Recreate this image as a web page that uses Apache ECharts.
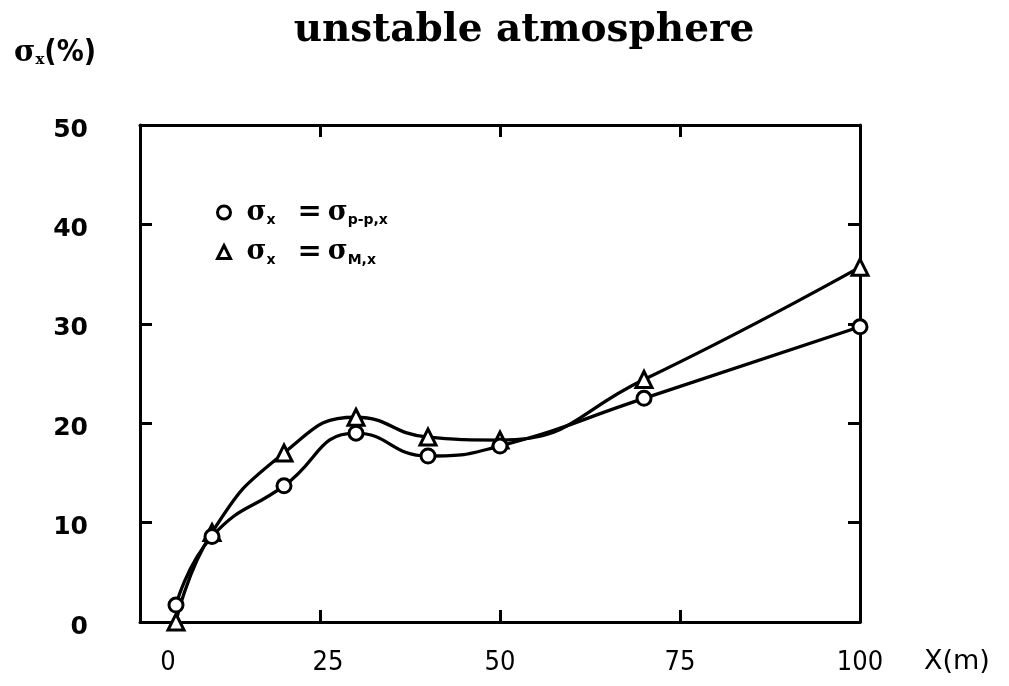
<!DOCTYPE html>
<html>
<head>
<meta charset="utf-8">
<title>unstable atmosphere</title>
<script src="https://cdn.jsdelivr.net/npm/echarts@6/dist/echarts.min.js"></script>
<style>
  html, body { margin: 0; padding: 0; background: #fff; }
  #chart { width: 1009px; height: 686px; }
</style>
</head>
<body>
<div id="chart"></div>
<script>
// Downwind distance X (m) of the measurement points
const distances = [5, 10, 20, 30, 40, 50, 70, 100];
// sigma_x (%) estimated from peak-to-peak values
const sigmaPeakToPeak = [1.7, 8.6, 13.7, 19.0, 16.7, 17.7, 22.5, 29.7];
// sigma_x (%) estimated from the M method
const sigmaM = [0, 9.0, 17.0, 20.6, 18.6, 18.3, 24.4, 35.7];
// Axis tick labels
const xTickLabels = ['0', '25', '50', '75', '100'];
const yTickLabels = ['0', '10', '20', '30', '40', '50'];

const NAME_PP = 'σx = σp-p,x';
const NAME_M = 'σx = σM,x';

const pairs = (xs, ys) => xs.map((x, i) => [x, ys[i]]);

const frameLine = { show: true, onZero: false, lineStyle: { color: '#000', width: 3 } };
const inwardTick = { show: true, inside: true, length: 12, lineStyle: { color: '#000', width: 3 } };

const sigmaFont = { fontFamily: 'DejaVu Serif', fontWeight: 'bold', fontSize: 27, color: '#000', lineHeight: 30 };

const chart = echarts.init(document.getElementById('chart'), null, { renderer: 'canvas' });

chart.setOption({
  backgroundColor: '#fff',
  animation: false,
  title: [
    {
      text: 'unstable atmosphere',
      left: 519, top: 6, textAlign: 'center',
      textStyle: { fontFamily: 'DejaVu Serif', fontWeight: 'bold', fontSize: 39, color: '#000' }
    },
    {
      text: '{s|σ}{sub|x}{p|(%)}',
      left: 9, top: 33,
      textStyle: {
        rich: {
          s: { fontFamily: 'DejaVu Serif', fontWeight: 'bold', fontSize: 29, color: '#000' },
          sub: { fontFamily: 'DejaVu Serif', fontWeight: 'bold', fontSize: 15, color: '#000', verticalAlign: 'bottom', padding: [14, 0, 0, 0] },
          p: { fontFamily: 'DejaVu Sans Condensed', fontWeight: 'bold', fontSize: 30, color: '#000' }
        }
      }
    }
  ],
  legend: {
    orient: 'vertical',
    left: 211, top: 193,
    itemWidth: 13, itemHeight: 13,
    itemGap: 10,
    data: [
      { name: NAME_PP, icon: 'circle', itemStyle: { color: '#fff', borderColor: '#000', borderWidth: 3 } },
      { name: NAME_M, icon: 'triangle', itemStyle: { color: '#fff', borderColor: '#000', borderWidth: 3 } }
    ],
    formatter: name => name === NAME_PP
      ? '{s1|σ}{sub|x}{eq|=}{s2|σ}{sub|p-p,x}'
      : '{s1|σ}{sub|x}{eq|=}{s2|σ}{sub|M,x}',
    textStyle: {
      rich: {
        s1: Object.assign({}, sigmaFont, { padding: [0, 0, 0, 11] }),
        s2: sigmaFont,
        sub: { fontFamily: 'DejaVu Sans', fontWeight: 'bold', fontSize: 14, color: '#000', lineHeight: 30, verticalAlign: 'bottom', padding: [12, 0, 0, 0] },
        eq: { fontFamily: 'DejaVu Sans', fontWeight: 'bold', fontSize: 29, color: '#000', lineHeight: 30, padding: [0, 6, 0, 22] }
      }
    }
  },
  grid: { left: 140, right: 149, top: 125, bottom: 64, containLabel: false },
  xAxis: [
    {
      type: 'value', position: 'bottom', min: 0, max: 100, interval: 25,
      axisLine: frameLine, axisTick: inwardTick, splitLine: { show: false },
      axisLabel: {
        margin: 27,
        fontFamily: 'DejaVu Sans Condensed', fontSize: 27, color: '#000',
        formatter: v => {
          const label = xTickLabels[Math.round(v / 25)];
          if (v === 0) return '{z|' + label + '}';
          if (v === 25) return '{q|' + label + '}';
          return label;
        },
        rich: {
          z: { fontFamily: 'DejaVu Sans Condensed', fontSize: 27, color: '#000', padding: [0, 0, 0, 56] },
          q: { fontFamily: 'DejaVu Sans Condensed', fontSize: 27, color: '#000', padding: [0, 0, 0, 16] }
        }
      },
      name: 'X(m)', nameLocation: 'end', nameGap: 64,
      nameTextStyle: { fontFamily: 'DejaVu Sans', fontSize: 27, color: '#000', verticalAlign: 'top', padding: [26, 0, 0, 0] }
    },
    {
      type: 'value', position: 'top', min: 0, max: 100, interval: 25,
      axisLine: frameLine, axisTick: inwardTick, axisLabel: { show: false }, splitLine: { show: false }
    }
  ],
  yAxis: [
    {
      type: 'value', position: 'left', min: 0, max: 50, interval: 10,
      axisLine: frameLine, axisTick: inwardTick, splitLine: { show: false },
      axisLabel: {
        margin: 52,
        formatter: v => '{y|' + yTickLabels[Math.round(v / 10)] + '}',
        rich: {
          y: { fontFamily: 'DejaVu Sans', fontWeight: 'bold', fontSize: 25, color: '#000', padding: [10, 0, 0, 0] }
        }
      }
    },
    {
      type: 'value', position: 'right', min: 0, max: 50, interval: 10,
      axisLine: frameLine, axisTick: inwardTick, axisLabel: { show: false }, splitLine: { show: false }
    }
  ],
  series: [
    {
      name: NAME_PP, type: 'line', xAxisIndex: 0, yAxisIndex: 0,
      data: pairs(distances, sigmaPeakToPeak),
      smooth: 0.5,
      symbol: 'circle', symbolSize: 14,
      lineStyle: { color: '#000', width: 3.3 },
      itemStyle: { color: '#fff', borderColor: '#000', borderWidth: 3 },
      z: 3
    },
    {
      name: NAME_M, type: 'line', xAxisIndex: 0, yAxisIndex: 0,
      data: pairs(distances, sigmaM),
      smooth: 0.5,
      symbol: 'triangle', symbolSize: 16,
      lineStyle: { color: '#000', width: 3.3 },
      itemStyle: { color: '#fff', borderColor: '#000', borderWidth: 3 },
      z: 2
    }
  ]
});
</script>
</body>
</html>
